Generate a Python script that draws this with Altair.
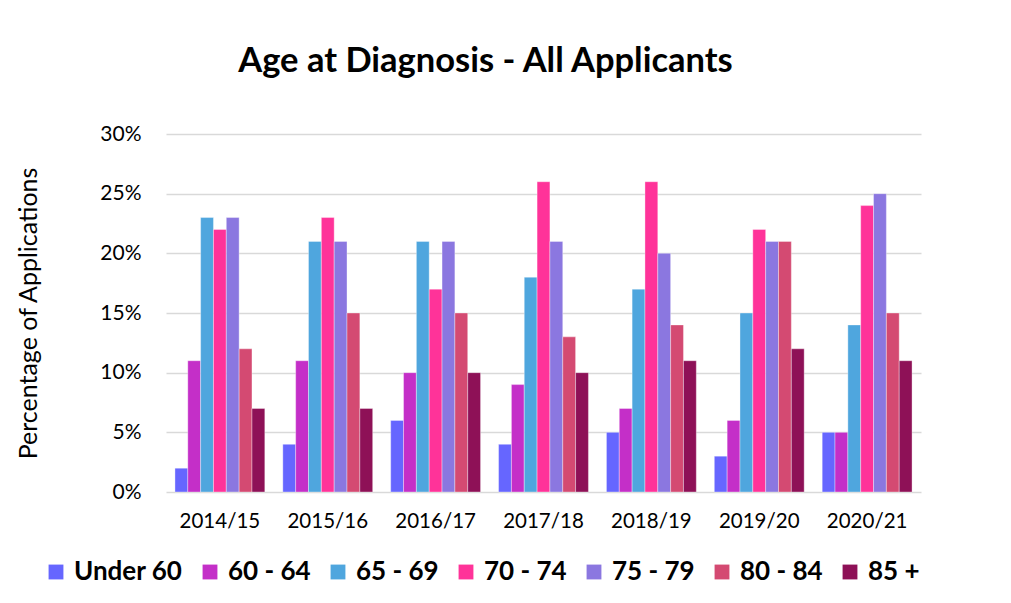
import altair as alt
import pandas as pd

years = ["2014/15", "2015/16", "2016/17", "2017/18", "2018/19", "2019/20", "2020/21"]
groups = ["Under 60", "60 - 64", "65 - 69", "70 - 74", "75 - 79", "80 - 84", "85 +"]
colors = ["#6666FF", "#C42FC8", "#4FA6DE", "#FF3399", "#8B77E0", "#D44A72", "#8E1157"]

under60 = [2, 4, 6, 4, 5, 3, 5]
a60_64 = [11, 11, 10, 9, 7, 6, 5]
a65_69 = [23, 21, 21, 18, 17, 15, 14]
a70_74 = [22, 23, 17, 26, 26, 22, 24]
a75_79 = [23, 21, 21, 21, 20, 21, 25]
a80_84 = [12, 15, 15, 13, 14, 21, 15]
a85 = [7, 7, 10, 10, 11, 12, 11]

series = [under60, a60_64, a65_69, a70_74, a75_79, a80_84, a85]
rows = []
for g, vals in zip(groups, series):
    for y, v in zip(years, vals):
        rows.append({"Year": y, "Age": g, "Value": v / 100})
df = pd.DataFrame(rows)

FONT = "Lato"

chart = alt.Chart(df).mark_bar(stroke="white", strokeWidth=0.6, strokeOpacity=0.6).encode(
    x=alt.X("Year:N", sort=years, title=None,
            scale=alt.Scale(paddingInner=0.167, paddingOuter=0.083),
            axis=alt.Axis(labelAngle=0, labelFontSize=20.5, labelPadding=19, ticks=False,
                          domain=False, labelColor="#000", labelFont=FONT)),
    xOffset=alt.XOffset("Age:N", sort=groups, scale=alt.Scale(paddingInner=0, paddingOuter=0)),
    y=alt.Y("Value:Q", title="Percentage of Applications",
            scale=alt.Scale(domain=[0, 0.30], nice=False),
            axis=alt.Axis(format=".0%", values=[0, 0.05, 0.10, 0.15, 0.20, 0.25, 0.30],
                          labelFontSize=21, labelPadding=25, ticks=False, domain=False,
                          labelColor="#000", labelFont=FONT,
                          titleFontSize=25, titleFont=FONT, titleFontWeight="normal",
                          titleColor="#000", titlePadding=58,
                          gridColor="#D9D9D9", gridWidth=1.5)),
    color=alt.Color("Age:N", sort=groups,
                    scale=alt.Scale(domain=groups, range=colors),
                    legend=alt.Legend(title=None, orient="none", direction="horizontal",
                                      columns=7, legendX=-123, legendY=425,
                                      symbolType="square", symbolSize=220,
                                      symbolStrokeWidth=0,
                                      labelFontSize=26, labelFontWeight="bold",
                                      labelFont=FONT, labelColor="#000",
                                      columnPadding=14, labelOffset=5)),
).properties(
    width=755,
    height=358,
    title=alt.TitleParams("Age at Diagnosis - All Applicants", fontSize=34.5,
                          font=FONT, fontWeight="bold", color="#000",
                          anchor="middle", dx=-58, offset=44),
    autosize=alt.AutoSizeParams(type="none"),
    padding={"left": 158, "top": 126, "right": 82, "bottom": 103},
).configure_view(stroke=None).configure_axis(grid=True).configure_axisX(grid=False)

chart.save("out.html", embed_options={"renderer": "svg", "actions": False})
